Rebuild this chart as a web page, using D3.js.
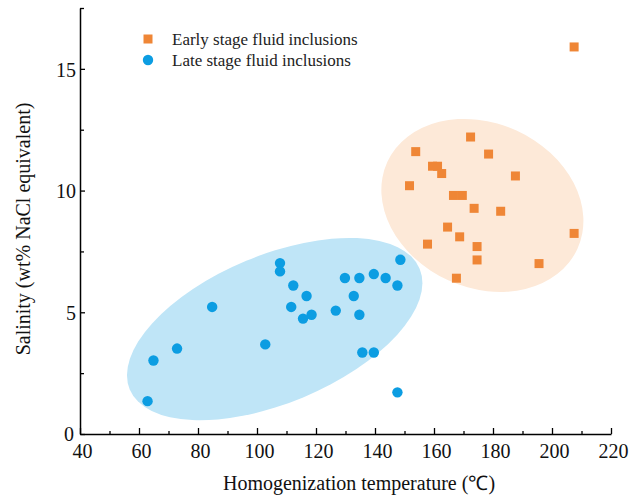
<!DOCTYPE html>
<html>
<head>
<meta charset="utf-8">
<script src="https://cdn.jsdelivr.net/npm/d3@7"></script>
<style>
  body { margin: 0; background: #fff; }
  svg { display: block; }
</style>
</head>
<body>
<svg width="630" height="497"></svg>
<script>
// early stage: [temperature, salinity]
const earlyTemp = [207.5, 172.4, 153.8, 178.5, 159.5, 161.2, 162.6, 151.7, 187.6, 166.6, 169.6,
                   173.6, 182.6, 164.6, 168.7, 207.5, 157.8, 174.6, 174.6, 195.6, 167.6];
const earlySal  = [15.9, 12.2, 11.6, 11.5, 11.0, 11.0, 10.7, 10.2, 10.6, 9.8, 9.8,
                   9.27, 9.15, 8.5, 8.1, 8.24, 7.8, 7.7, 7.15, 7.0, 6.4];

// late stage
const lateTemp = [107.8, 107.8, 148.6, 129.8, 134.7, 139.6, 143.6, 147.6, 112.3, 116.8, 132.8, 84.8,
                  111.6, 118.5, 115.6, 126.7, 134.7, 102.8, 72.9, 64.9, 135.7, 139.6, 62.9, 147.6];
const lateSal  = [7.02, 6.68, 7.16, 6.41, 6.41, 6.57, 6.41, 6.1, 6.1, 5.67, 5.67, 5.22,
                  5.22, 4.9, 4.74, 5.07, 4.9, 3.68, 3.51, 3.02, 3.35, 3.35, 1.35, 1.71];

// group ellipses: centre in data units
const lateZone  = [106.0, 4.31];
const earlyZone = [176.4, 9.39];

const xTicks = [40, 60, 80, 100, 120, 140, 160, 180, 200, 220];
const yTicks = [0, 5, 10, 15];
const legendLabels = ["Early stage fluid inclusions", "Late stage fluid inclusions"];

const FONT = "'Liberation Serif', 'Times New Roman', serif";

const svg = d3.select("svg");
const x = d3.scaleLinear().domain([40, 220]).range([80, 611]);
const y = d3.scaleLinear().domain([0, 17.5]).range([434, 8]);

const orange = "#ef8636";
const blue = "#0c9de2";

// shaded zones
svg.append("ellipse")
    .attr("cx", 0).attr("cy", 0)
    .attr("rx", 157).attr("ry", 74)
    .attr("transform", `translate(${x(lateZone[0])},${y(lateZone[1])}) rotate(-22.6)`)
    .attr("fill", "#bfe5f7");

svg.append("ellipse")
    .attr("cx", 0).attr("cy", 0)
    .attr("rx", 104.5).attr("ry", 82.3)
    .attr("transform", `translate(${x(earlyZone[0])},${y(earlyZone[1])}) rotate(24.5)`)
    .attr("fill", "#fde9d8");

// axes
const axisStyle = g => {
    g.attr("font-family", FONT).attr("font-size", 20);
    g.select(".domain").attr("stroke", "#000").attr("stroke-width", 1.5);
    g.selectAll(".tick line").attr("stroke", "#000").attr("stroke-width", 1.3);
    g.selectAll(".tick text").attr("fill", "#111");
};

// minor x ticks
svg.append("g")
    .attr("transform", "translate(0,434)")
    .call(d3.axisBottom(x).tickValues(d3.range(50, 220, 20)).tickSize(-3).tickFormat(""))
    .call(axisStyle)
    .select(".domain").remove();

const xAxis = svg.append("g")
    .attr("transform", "translate(0,434)")
    .call(d3.axisBottom(x).tickValues(xTicks).tickSizeInner(-6).tickSizeOuter(0).tickPadding(0))
    .call(axisStyle);
xAxis.selectAll(".tick text")
    .attr("y", 24).attr("dy", 0).attr("dx", 2);

// minor y ticks
svg.append("g")
    .attr("transform", "translate(80,0)")
    .call(d3.axisLeft(y).tickValues([2.5, 7.5, 12.5, 17.5]).tickSize(-4).tickFormat(""))
    .call(axisStyle)
    .select(".domain").remove();

const yAxis = svg.append("g")
    .attr("transform", "translate(80,0)")
    .call(d3.axisLeft(y).tickValues(yTicks).tickSizeInner(-5).tickSizeOuter(0).tickPadding(0))
    .call(axisStyle);
yAxis.selectAll(".tick text")
    .attr("x", -4).attr("dy", "0.36em");
yAxis.selectAll(".tick").filter(d => d === 0).select("text").attr("dy", "0.3em").attr("x", -6);

// axis titles
svg.append("text")
    .attr("x", 359).attr("y", 490)
    .attr("text-anchor", "middle")
    .attr("font-family", FONT)
    .attr("font-size", 20).attr("fill", "#111")
    .text("Homogenization temperature (℃)");

svg.append("text")
    .attr("transform", "translate(30,229) rotate(-90)")
    .attr("text-anchor", "middle")
    .attr("font-family", FONT)
    .attr("font-size", 20).attr("fill", "#111")
    .text("Salinity (wt% NaCl equivalent)");

// points
svg.append("g")
    .selectAll("rect")
    .data(d3.zip(earlyTemp, earlySal))
    .enter().append("rect")
    .attr("x", d => x(d[0]) - 4.5)
    .attr("y", d => y(d[1]) - 4.5)
    .attr("width", 9).attr("height", 9)
    .attr("fill", orange);

svg.append("g")
    .selectAll("circle")
    .data(d3.zip(lateTemp, lateSal))
    .enter().append("circle")
    .attr("cx", d => x(d[0]))
    .attr("cy", d => y(d[1]))
    .attr("r", 5.2)
    .attr("fill", blue);

// legend
const legend = svg.append("g").attr("transform", "translate(148,39)").attr("font-family", FONT);
legend.append("rect").attr("x", -4.5).attr("y", -4.5).attr("width", 9).attr("height", 9).attr("fill", orange);
legend.append("circle").attr("cx", 0).attr("cy", 21).attr("r", 5.2).attr("fill", blue);
legend.selectAll("text")
    .data(legendLabels)
    .enter().append("text")
    .attr("x", 24)
    .attr("y", (d, i) => i * 21 + 5.5)
    .attr("font-size", 17).attr("fill", "#222")
    .text(d => d);
</script>
</body>
</html>
